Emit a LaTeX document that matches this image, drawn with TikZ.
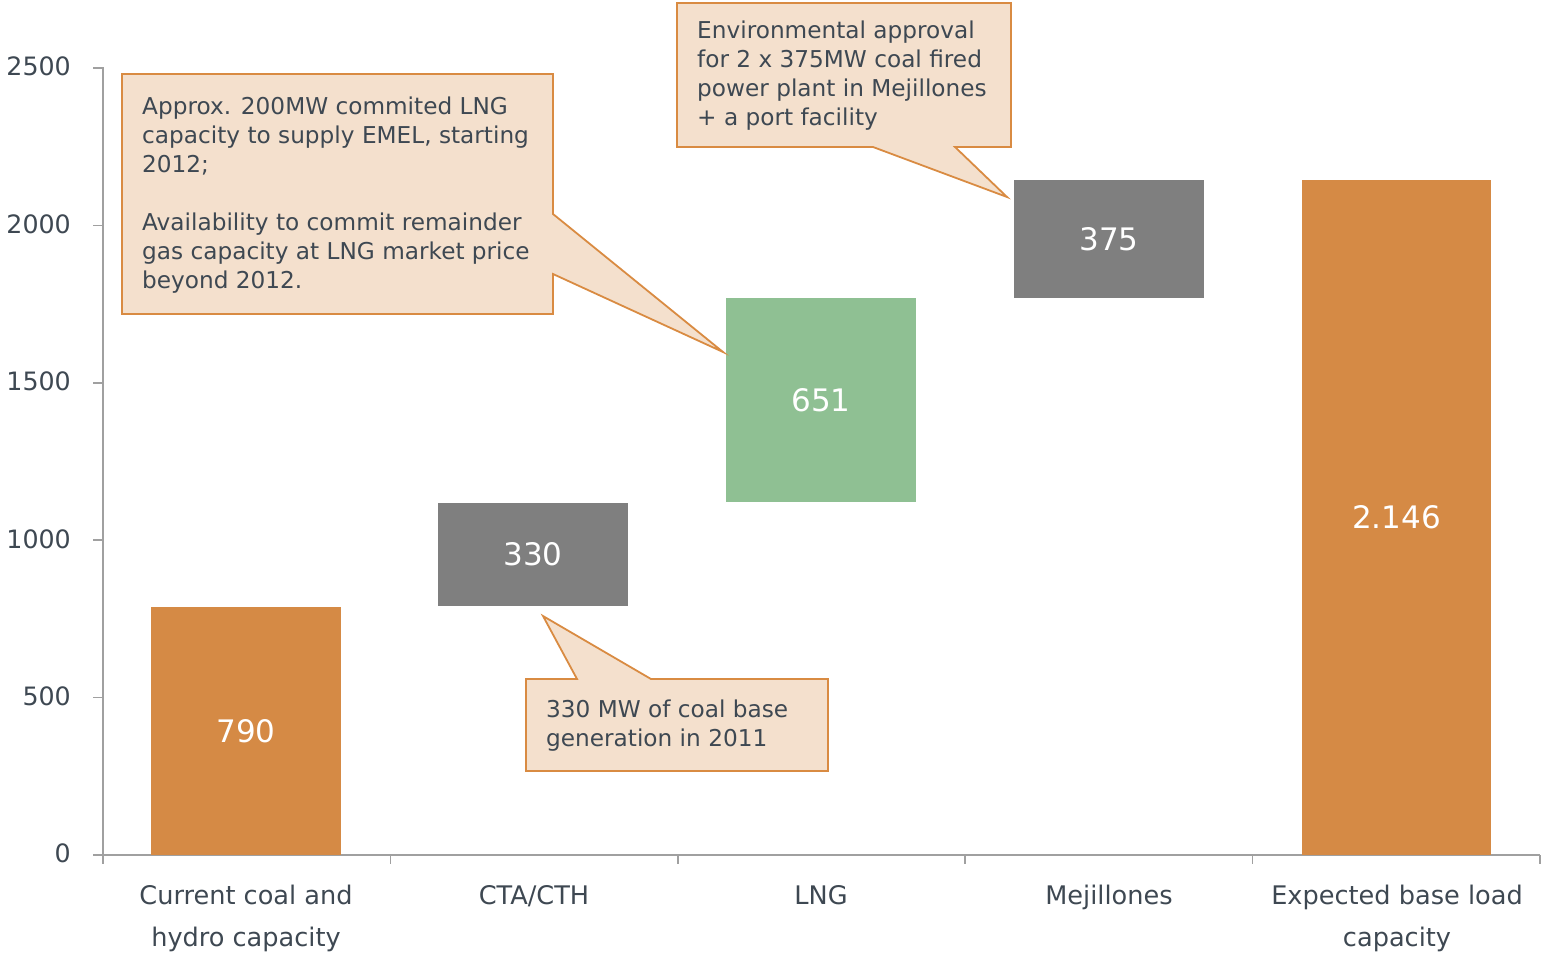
\documentclass[tikz,border=0pt]{standalone}
\usepackage{fontspec}
\setmainfont{DejaVu Sans}
\definecolor{barorange}{HTML}{D58A45}
\definecolor{bargray}{HTML}{7F7F7F}
\definecolor{bargreen}{HTML}{8FC093}
\definecolor{callfill}{HTML}{F4E0CD}
\definecolor{callline}{HTML}{D98B42}
\definecolor{txt}{HTML}{3E4852}
\definecolor{axisgray}{HTML}{A0A0A0}
\tikzset{
  barbox/.style={draw=none, minimum width=190pt, inner sep=0pt, text=white, font=\fontsize{31}{36}\selectfont},
  callout/.style={fill=callfill, draw=callline, line width=1.8pt, line join=miter},
  calltext/.style={anchor=north west, inner sep=0pt, align=left, text=txt, font=\fontsize{23.2}{29}\selectfont},
  ylab/.style={anchor=east, inner sep=0pt, text=txt, font=\fontsize{25.3}{28}\selectfont},
  xlab/.style={anchor=center, inner sep=0pt, align=center, text=txt, font=\fontsize{25.6}{42}\selectfont},
  xlabone/.style={xlab, anchor=base},
  axisline/.style={draw=axisgray, line width=1.5pt}
}
\begin{document}
\begin{tikzpicture}[x=1pt,y=-1pt]
\useasboundingbox (0,0) rectangle (1544,953);
% axes
\coordinate (ytop) at (103,68);
\coordinate (orig) at (103,855);
\coordinate (xend) at (1540,855);
\draw[axisline] (93,68) -- (ytop) -- (orig);
\draw[axisline] (93,855) -- (xend);
\foreach \v/\y in {2500/68,2000/225.4,1500/382.8,1000/540.2,500/697.6}
  \draw[axisline] (93,\y) -- (103,\y);
\foreach \x in {103,390.4,677.8,965.2,1252.6,1540}
  \draw[axisline] (\x,855) -- (\x,864);
\foreach \v/\y [count=\i] in {2500/66,2000/224,1500/381,1000/539,500/696,0/853}
  \node[ylab] (yl\i) at (71,\y) {\v};
% bars
\node[barbox, fill=barorange, minimum height=248pt] (b1) at (246,731) {790};
\node[barbox, fill=bargray, minimum height=103pt] (b2) at (533,554.5) {330};
\node[barbox, fill=bargreen, minimum height=204pt] (b3) at (821,400) {651};
\node[barbox, fill=bargray, minimum height=118pt] (b4) at (1109,239) {375};
\node[barbox, fill=barorange, minimum height=675pt, minimum width=189pt] (b5) at (1396.5,517.5) {2.146};
% category labels
\node[xlab] (c1) at (246,918) {Current coal and\\hydro capacity};
\node[xlabone] (c2) at (534,904) {CTA/CTH};
\node[xlabone] (c3) at (821,904) {LNG};
\node[xlabone] (c4) at (1109,904) {Mejillones};
\node[xlab] (c5) at (1397,918) {Expected base load\\capacity};
% callout 1
\draw[callout] (122,74) -- (553,74) -- (553,214) -- (723,352) -- (553,274) -- (553,314) -- (122,314) -- cycle;
\node[calltext] (t1) at (142,97) {Approx. 200MW commited LNG\\capacity to supply EMEL, starting\\2012;\\[29pt]Availability to commit remainder\\gas capacity at LNG market price\\beyond 2012.};
% callout 2
\draw[callout] (677,3) -- (1011,3) -- (1011,147) -- (955,147) -- (1007,197) -- (873,147) -- (677,147) -- cycle;
\node[calltext] (t2) at (697,21) {Environmental approval\\for 2 x 375MW coal fired\\power plant in Mejillones\\+ a port facility};
% callout 3
\draw[callout] (526,679) -- (577,679) -- (543,616) -- (651,679) -- (828,679) -- (828,771) -- (526,771) -- cycle;
\node[calltext] (t3) at (546,700) {330 MW of coal base\\generation in 2011};
\end{tikzpicture}
\end{document}
